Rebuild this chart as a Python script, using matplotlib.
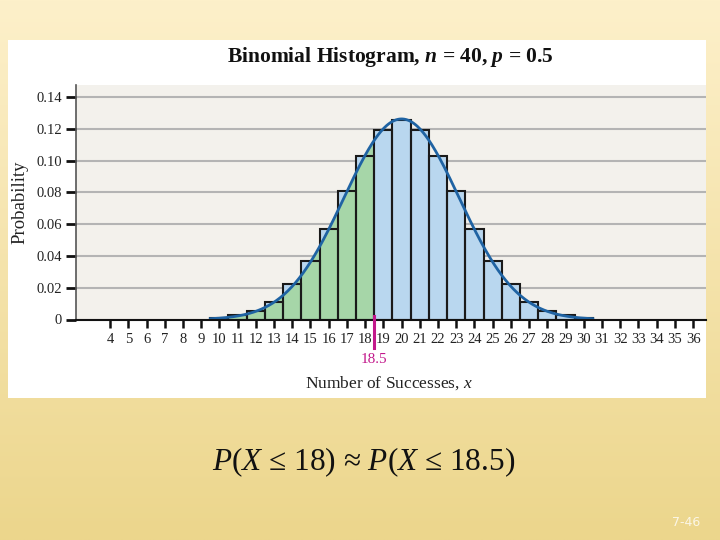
import numpy as np
import matplotlib
matplotlib.use("Agg")
import matplotlib.pyplot as plt
from matplotlib.patches import Rectangle

# ---------------- data ----------------
x_values = list(range(10, 31))
probabilities = [0.0012, 0.0030, 0.0055, 0.0112, 0.0221, 0.0366, 0.0572, 0.0807,
                 0.1031, 0.1194, 0.1254, 0.1194, 0.1031, 0.0807, 0.0572, 0.0366,
                 0.0221, 0.0112, 0.0055, 0.0030, 0.0012]
normal_mean = 20.0
normal_sd = 3.1623
cutoff = 18.5
x_ticks = list(range(4, 37))
y_ticks = [0, 0.02, 0.04, 0.06, 0.08, 0.10, 0.12, 0.14]
y_tick_labels = ["0", "0.02", "0.04", "0.06", "0.08", "0.10", "0.12", "0.14"]

plt.rcParams["font.family"] = ["Liberation Serif", "DejaVu Serif"]
plt.rcParams["mathtext.fontset"] = "custom"
plt.rcParams["mathtext.rm"] = "Liberation Serif"
plt.rcParams["mathtext.it"] = "Liberation Serif:italic"
plt.rcParams["mathtext.bf"] = "Liberation Serif:bold"
has_bfit = "mathtext.bfit" in plt.rcParams
if has_bfit:
    plt.rcParams["mathtext.bfit"] = "Liberation Serif:italic:bold"

W, H = 720, 540
fig = plt.figure(figsize=(7.2, 5.4), dpi=100)

# slide background gradient
bg = fig.add_axes([0, 0, 1, 1], zorder=-10)
top = np.array([253, 240, 202]) / 255
bot = np.array([236, 214, 140]) / 255
t = np.linspace(0, 1, 256)[:, None]
grad = (top[None, :] * (1 - t) + bot[None, :] * t)
grad = np.repeat(grad[:, None, :], 4, axis=1)
bg.imshow(grad, aspect="auto", extent=[0, 1, 0, 1])
bg.axis("off")

# white panel
fig.patches.append(Rectangle((8 / W, 1 - 398 / H), (706 - 8) / W, (398 - 40) / H,
                             transform=fig.transFigure, facecolor="white",
                             edgecolor="none", zorder=-5))

# plot axes
x0, x1, ytop, ybot = 76, 706, 85, 319.5
ax = fig.add_axes([x0 / W, 1 - ybot / H, (x1 - x0) / W, (ybot - ytop) / H])
ax.set_facecolor("#f3f1ec")
ax.set_xlim(2.13, 36.71)
ax.set_ylim(0, 0.1475)

ax.set_yticks(y_ticks)
ax.set_yticklabels(y_tick_labels)
ax.set_xticks(x_ticks)
ax.set_xticklabels([str(v) for v in x_ticks])
ax.yaxis.grid(True, color="#b4b4b4", lw=1.5)
ax.set_axisbelow(True)

def pdf(x):
    return np.exp(-0.5 * ((x - normal_mean) / normal_sd) ** 2) / (normal_sd * np.sqrt(2 * np.pi))

ax.bar(x_values, probabilities, width=1.0, color="#b9d7ef", edgecolor="none", zorder=2)
xs_g = np.linspace(x_values[0] - 0.5, cutoff, 300)
ax.fill_between(xs_g, 0, pdf(xs_g), color="#a6d6a8", lw=0, zorder=3)
ax.bar(x_values, probabilities, width=1.0, fill=False, edgecolor="#1a1a1a", lw=1.5, zorder=4)
xs = np.linspace(x_values[0] - 0.5, x_values[-1] + 0.5, 400)
ax.plot(xs, pdf(xs), color="#1f63a3", lw=2.0, zorder=5)

for s in ("top", "right"):
    ax.spines[s].set_visible(False)
ax.spines["left"].set_color("#555555")
ax.spines["left"].set_linewidth(1.2)
ax.spines["bottom"].set_color("#111111")
ax.spines["bottom"].set_linewidth(1.5)
ax.spines["bottom"].set_zorder(6)

ax.tick_params(axis="y", direction="out", length=7, width=2, color="#111111",
               labelsize=10.5, pad=3, labelcolor="#222222")
ax.tick_params(axis="x", direction="out", length=6, width=1.8, color="#111111",
               labelsize=10.5, pad=4, labelcolor="#222222")

# cutoff marker
ax.plot([cutoff, cutoff], [0.002, -0.018], color="#c2188b", lw=2.2, clip_on=False, zorder=7)
ax.text(cutoff, -0.025, "18.5", color="#c2188b", fontsize=11, ha="center", va="center")

ax.set_ylabel("Probability", fontsize=13.5, color="#222222")
ax.yaxis.set_label_coords(-0.076, 0.5)

fig.text(389 / W, 1 - 383 / H, "Number of Successes, $x$", fontsize=12.5,
         ha="center", va="center", color="#222222")

if has_bfit:
    title = r"Binomial Histogram, $\mathbfit{n}$ = 40, $\mathbfit{p}$ = 0.5"
else:
    title = r"Binomial Histogram, $n$ = 40, $p$ = 0.5"
fig.text(390 / W, 1 - 57 / H, title, fontsize=15.5, fontweight="bold",
         ha="center", va="center", color="#111111")

fig.text(364 / W, 1 - 462 / H, "$P$($X$ ≤ 18) ≈ $P$($X$ ≤ 18.5)", fontsize=22.5,
         ha="center", va="center", color="#111111")

fig.text(686 / W, 1 - 522 / H, "7-46", fontsize=9, family="DejaVu Sans",
         ha="center", va="center", color="#fbf6e6")

fig.savefig("out.png", dpi=100)
